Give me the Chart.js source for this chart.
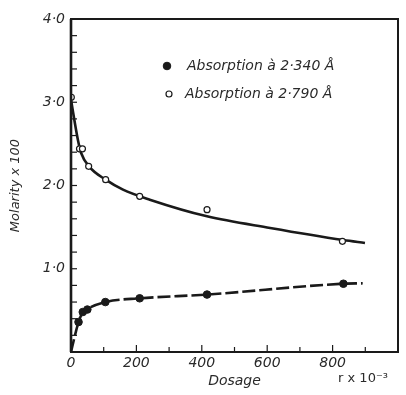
<!DOCTYPE html>
<html>
<head>
<meta charset="utf-8">
<script src="https://cdn.jsdelivr.net/npm/chart.js@4"></script>
<style>
  html, body { margin: 0; padding: 0; background: #fff; }
  #wrap { width: 406px; height: 395px; position: relative; }
</style>
</head>
<body>
<div id="wrap"><canvas id="c" width="406" height="395"></canvas></div>
<script>
// Measured points (dosage in r x 10^-3, molarity x 100)
const dosage2340   = [23, 36, 50, 105, 210, 416, 833];
const molarity2340 = [0.36, 0.48, 0.51, 0.60, 0.645, 0.69, 0.82];
const dosage2790   = [1, 26, 35, 54, 106, 210, 416, 830];
const molarity2790 = [3.06, 2.44, 2.44, 2.23, 2.07, 1.87, 1.71, 1.33];

// Hand-drawn fitted curves
const curveDosage2340   = [0, 14, 23, 35, 51, 105, 210, 416, 833, 892];
const curveMolarity2340 = [0, 0.23, 0.36, 0.47, 0.52, 0.60, 0.645, 0.69, 0.82, 0.825];
const curveDosage2790   = [0, 21, 31, 55, 106, 159, 241, 416, 609, 833, 899];
const curveMolarity2790 = [3.03, 2.55, 2.39, 2.23, 2.07, 1.95, 1.83, 1.63, 1.49, 1.345, 1.31];

const xTickValues = [0, 200, 400, 600, 800];
const yTickValues = [0, 1, 2, 3, 4];
const label2340 = 'Absorption à 2·340 Å';
const label2790 = 'Absorption à 2·790 Å';
const xTitle = 'Dosage';
const yTitle = 'Molarity x 100';
const unitText = 'r x 10⁻³';

const zip = (xs, ys) => xs.map((x, i) => ({ x, y: ys[i] }));
const FONT = '"DejaVu Sans", sans-serif';
const INK = '#1a1a1a';

const framePlugin = {
  id: 'frame',
  afterDatasetsDraw(chart) {
    const { ctx, chartArea: a, scales } = chart;
    ctx.save();
    ctx.strokeStyle = INK;
    // inward ticks
    ctx.lineWidth = 1.2;
    const xs = scales.x;
    xs.ticks.forEach(t => {
      const px = xs.getPixelForValue(t.value);
      const major = xTickValues.includes(t.value);
      ctx.beginPath();
      ctx.moveTo(px, a.bottom);
      ctx.lineTo(px, a.bottom - (major ? 7 : 5));
      ctx.stroke();
    });
    const ys = scales.y;
    ys.ticks.forEach(t => {
      const py = ys.getPixelForValue(t.value);
      ctx.beginPath();
      ctx.moveTo(a.left, py);
      ctx.lineTo(a.left + 6, py);
      ctx.stroke();
    });
    // box
    ctx.lineWidth = 2;
    ctx.strokeRect(a.left, a.top, a.right - a.left, a.bottom - a.top);
    ctx.lineWidth = 2.6;
    ctx.beginPath();
    ctx.moveTo(a.left, a.top);
    ctx.lineTo(a.left, a.bottom);
    ctx.stroke();

    // legend inside plot, from dataset labels/styles
    const entries = chart.data.datasets.filter(d => d.showLegendEntry);
    entries.forEach((d, i) => {
      const my = a.top + 47 + i * 28;
      const mx = a.left + 96 + (d.pointBackgroundColor === '#fff' ? 2 : 0);
      ctx.beginPath();
      ctx.arc(mx, my, d.pointRadius, 0, Math.PI * 2);
      ctx.fillStyle = d.pointBackgroundColor;
      ctx.fill();
      ctx.lineWidth = d.pointBorderWidth;
      ctx.strokeStyle = INK;
      ctx.stroke();
      ctx.fillStyle = '#2a2a2a';
      ctx.font = 'oblique 14px ' + FONT;
      ctx.textBaseline = 'middle';
      ctx.textAlign = 'left';
      ctx.fillText(d.label, a.left + 116 - (i ? 2 : 0), my);
    });

    // unit label at bottom right
    ctx.fillStyle = '#2a2a2a';
    ctx.font = '13px ' + FONT;
    ctx.textAlign = 'center';
    ctx.textBaseline = 'middle';
    ctx.fillText(unitText, xs.getPixelForValue(893), 379);
    ctx.restore();
  }
};

new Chart(document.getElementById('c'), {
  data: {
    datasets: [
      {
        type: 'line', label: 'fit 2790', data: zip(curveDosage2790, curveMolarity2790),
        borderColor: INK, borderWidth: 2.6, pointRadius: 0, fill: false,
        cubicInterpolationMode: 'monotone', order: 3
      },
      {
        type: 'line', label: 'fit 2340', data: zip(curveDosage2340, curveMolarity2340),
        borderColor: INK, borderWidth: 2.6, borderDash: [13, 4], pointRadius: 0, fill: false,
        cubicInterpolationMode: 'monotone', order: 3
      },
      {
        type: 'scatter', label: label2340, data: zip(dosage2340, molarity2340),
        pointRadius: 3.8, pointBackgroundColor: INK, pointBorderColor: INK, pointBorderWidth: 1,
        showLegendEntry: true, order: 1
      },
      {
        type: 'scatter', label: label2790, data: zip(dosage2790, molarity2790),
        pointRadius: 3, pointBackgroundColor: '#fff', pointBorderColor: INK, pointBorderWidth: 1.2,
        showLegendEntry: true, order: 1
      }
    ]
  },
  options: {
    responsive: false,
    animation: false,
    layout: { padding: { top: 19, right: 8, left: 0, bottom: 0 } },
    plugins: { legend: { display: false }, tooltip: { enabled: false } },
    scales: {
      x: {
        type: 'linear', min: 0, max: 1000,
        afterFit: s => { s.height = 43; },
        grid: { display: false, drawTicks: false },
        border: { display: true, color: INK, width: 2 },
        ticks: {
          stepSize: 100, padding: 3, color: '#2a2a2a', maxRotation: 0, autoSkip: false,
          font: { family: FONT, size: 14, style: 'italic' },
          callback: v => xTickValues.includes(v) ? String(v) : ''
        },
        title: {
          display: true, text: xTitle, color: '#2a2a2a',
          font: { family: FONT, size: 14, style: 'italic' },
          padding: { top: 0, bottom: 5 }
        }
      },
      y: {
        type: 'linear', min: 0, max: 4,
        afterFit: s => { s.width = 71; },
        grid: { display: false, drawTicks: false },
        border: { display: true, color: INK, width: 2 },
        ticks: {
          stepSize: 0.2, padding: 6, color: '#2a2a2a', autoSkip: false,
          font: { family: FONT, size: 14, style: 'italic' },
          callback: v => {
            const r = Math.round(v);
            return (Math.abs(v - r) < 1e-6 && yTickValues.includes(r) && r !== 0) ? r.toFixed(1).replace('.', '·') : '';
          }
        },
        title: {
          display: true, text: yTitle, color: '#2a2a2a',
          font: { family: FONT, size: 13, style: 'italic' },
          padding: { top: 8, bottom: 0 }
        }
      }
    }
  },
  plugins: [framePlugin]
});
</script>
</body>
</html>
